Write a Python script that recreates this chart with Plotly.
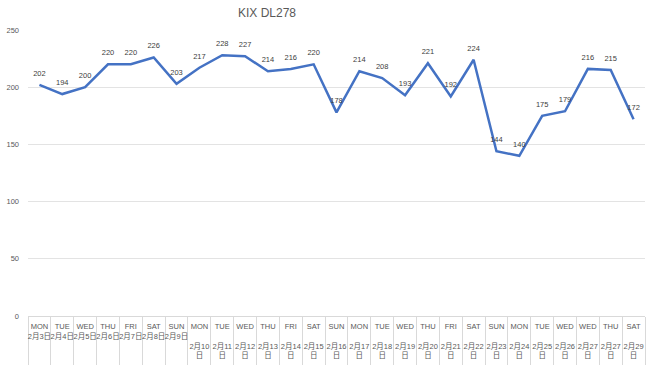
import plotly.graph_objects as go

weekdays = ["MON","TUE","WED","THU","FRI","SAT","SUN",
            "MON","TUE","WED","THU","FRI","SAT","SUN",
            "MON","TUE","WED","THU","FRI","SAT",
            "SUN","MON","TUE","WED","WED","THU","SAT"]
dates = ["2月3日","2月4日","2月5日","2月6日","2月7日","2月8日","2月9日",
         "2月10日","2月11日","2月12日","2月13日","2月14日","2月15日","2月16日",
         "2月17日","2月18日","2月19日","2月20日","2月21日","2月22日",
         "2月23日","2月24日","2月25日","2月26日","2月27日","2月27日","2月29日"]
values = [202,194,200,220,220,226,203,
          217,228,227,214,216,220,178,
          214,208,193,221,192,224,
          144,140,175,179,216,215,172]
y_ticks = [0,50,100,150,200,250]

def fmt(wd, d):
    if len(d) > 4:
        return f"{wd}<br><br>{d[:-1]}<br>{d[-1]}"
    return f"{wd}<br>{d}"

labels = [fmt(w, d) for w, d in zip(weekdays, dates)]
FONT = "Liberation Sans, Noto Sans CJK JP"

fig = go.Figure(go.Scatter(
    x=labels, y=values, mode="lines+markers+text",
    line=dict(color="#4472C4", width=2.5),
    marker=dict(size=10, color="rgba(0,0,0,0)"),
    text=[str(v) for v in values], textposition="top center",
    textfont=dict(size=7.5, color="#404040", family=FONT),
    cliponaxis=False, hoverinfo="skip"))

fig.update_layout(
    width=650, height=370,
    margin=dict(l=28, r=5, t=30, b=54),
    paper_bgcolor="white", plot_bgcolor="white",
    showlegend=False,
    font=dict(family=FONT, size=7.5, color="#595959"),
    title=dict(text="KIX DL278", x=267/650, xanchor="center", y=1-13/370, yanchor="middle",
               font=dict(size=12, color="#595959", family=FONT)),
)
fig.update_xaxes(type="category", range=[-0.5, len(labels) - 0.5],
                 tickson="boundaries", ticks="outside", ticklen=48,
                 tickcolor="#d9d9d9", tickwidth=1, showline=True, linecolor="#d9d9d9",
                 showgrid=False, tickfont=dict(size=7.5, color="#595959", family=FONT), tickangle=0,
                 ticklabelstandoff=3, automargin=False)
fig.update_yaxes(range=[0,250], tickvals=y_ticks, showgrid=True, gridcolor="#e3e3e3",
                 zeroline=False, showline=False, ticks="", tickfont=dict(size=7.5, color="#595959"),
                 ticklabelstandoff=8, automargin=False)

fig.write_html("out.html", config={"displayModeBar": False},
               post_script="document.body.style.margin='0';document.body.style.overflow='hidden';")
